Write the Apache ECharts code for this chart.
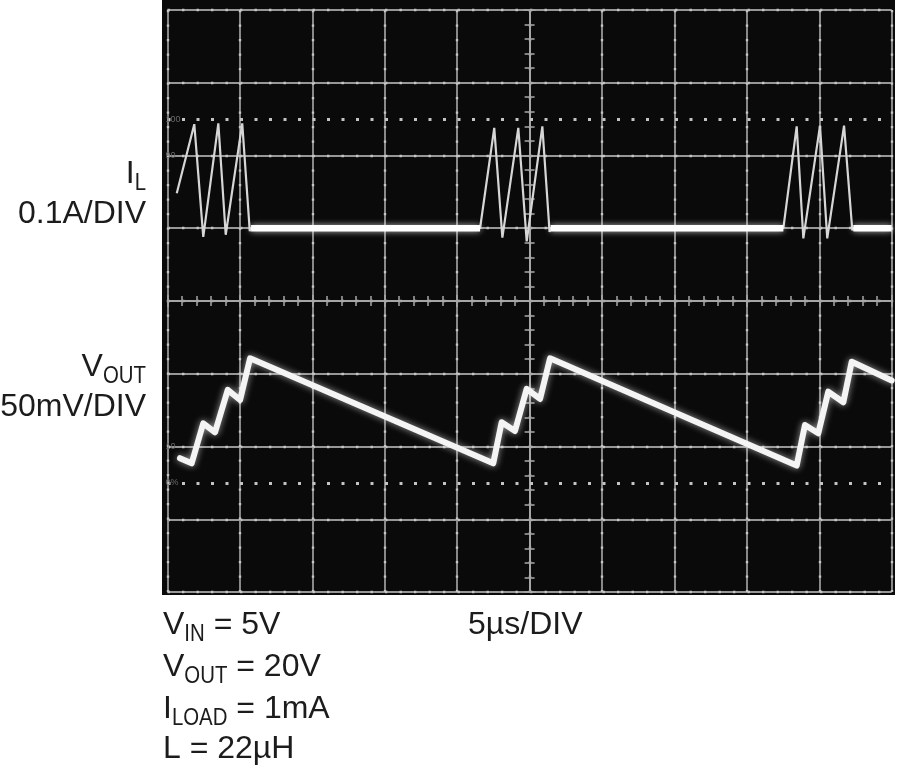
<!DOCTYPE html>
<html>
<head>
<meta charset="utf-8">
<script src="https://cdn.jsdelivr.net/npm/echarts@6/dist/echarts.min.js"></script>
<style>
html,body{margin:0;padding:0;background:#ffffff;}
#chart{width:900px;height:772px;}
</style>
</head>
<body>
<div id="chart"></div>
<script>
// ---------------- DATA ----------------
// time axis in µs (5µs/DIV, 10 divisions)
const timeMin = 0, timeMax = 50, timeStep = 5;
// screen divisions (8 vertical divisions)
const divMin = -4, divMax = 4, divStep = 1;
// IL channel: 0.1A/DIV, ground 1 div above centre
const ilMin = -0.5, ilMax = 0.3, ilStep = 0.1;
// VOUT channel: 50mV/DIV (AC ripple, mV about screen centre)
const voutMin = -200, voutMax = 200, voutStep = 50;

// inductor current trace (µs, A)
const ilTime = [0.64, 1.85, 2.47, 3.51, 4.02, 5.16, 5.68, 5.77, 21.58,
                22.56, 23.12, 24.22, 24.80, 25.88, 26.38, 26.45, 42.52,
                43.44, 43.90, 45.05, 45.55, 46.71, 47.28, 47.35, 50.00];
const ilAmps = [0.048, 0.143, -0.012, 0.144, -0.009, 0.144, -0.004, 0.000, 0.000,
                0.138, -0.013, 0.138, -0.018, 0.140, -0.005, 0.000, 0.000,
                0.140, -0.014, 0.141, -0.014, 0.141, -0.003, 0.000, 0.000];
// idle (zero current) stretches, drawn bright
const ilIdleStart = [5.77, 26.45, 47.35];
const ilIdleEnd = [21.58, 42.52, 50.00];
const ilIdleLevel = 0;

// output voltage ripple (µs, mV)
const voutTime = [0.86, 1.67, 2.47, 3.28, 4.16, 5.01, 5.70, 22.49,
                  23.07, 23.99, 24.80, 25.72, 26.41, 43.44,
                  44.01, 44.93, 45.62, 46.66, 47.24, 50.00];
const voutMilliVolts = [-108.0, -111.5, -84.0, -90.2, -61.1, -68.0, -39.4, -111.5,
                        -83.3, -89.3, -60.4, -67.3, -39.4, -113.1,
                        -85.2, -90.9, -62.3, -69.6, -41.7, -54.6];

// graticule dotted reference lines (in divisions) and scope % marks
const dottedLevels = [2.5, -2.5];
const percentMarks = ['100', '90', '10', '0%'];
const percentLevels = [2.5, 2.0, -2.0, -2.5];

// ---------------- LAYOUT ----------------
const FONT = '"Liberation Sans", Arial, Helvetica, sans-serif';
const MAIN = 32, SUB = 24, SUBDY = 7, SUBSX = 0.85, MIDK = 0.347;
const TEXT = '#1c1c1c';
const GRID = {left: 167.5, top: 9.9, width: 724.2, height: 582.2};

const mctx = document.createElement('canvas').getContext('2d');
function measure(t, s) { mctx.font = s + 'px ' + FONT; return mctx.measureText(t).width; }
function label(parts, x, baseline, align) {
  const sizes = parts.map(p => p[1] ? SUB : MAIN);
  const scales = parts.map(p => p[1] ? SUBSX : 1);
  const widths = parts.map((p, i) => measure(p[0], sizes[i]) * scales[i]);
  const total = widths.reduce((a, b) => a + b, 0);
  let cx = align === 'right' ? x - total : x;
  return parts.map((p, i) => {
    const el = {
      type: 'text', x: cx, y: baseline + (p[1] ? SUBDY : 0) - MIDK * sizes[i], z: 20,
      scaleX: scales[i],
      style: {text: p[0], fontSize: sizes[i], fontFamily: FONT, fill: TEXT, align: 'left', verticalAlign: 'middle'}
    };
    cx += widths[i];
    return el;
  });
}

const ilData = ilTime.map((t, i) => [t, ilAmps[i]]);
const ilIdleData = [];
ilIdleStart.forEach((s, i) => {
  ilIdleData.push([s, ilIdleLevel], [ilIdleEnd[i], ilIdleLevel], null);
});
const voutData = voutTime.map((t, i) => [t, voutMilliVolts[i]]);

const gridLine = {color: '#979797', width: 1.8};
const dotLine = {color: '#c6c6c6', width: 2.4, type: [2.4, 12.1]};
const tickStyle = {color: '#a8a8a8', width: 1.5};

const chart = echarts.init(document.getElementById('chart'), null, {renderer: 'canvas'});

const graphics = [
  {type: 'rect', z: -10, shape: {x: 162, y: 0, width: 733, height: 595}, style: {fill: '#0a0a0a'}}
].concat(
  label([['I', false], ['L', true]], 146, 185, 'right'),
  label([['0.1A/DIV', false]], 146, 225, 'right'),
  label([['V', false], ['OUT', true]], 146, 378, 'right'),
  label([['50mV/DIV', false]], 146, 418, 'right'),
  label([['V', false], ['IN', true], [' = 5V', false]], 163, 636, 'left'),
  label([['V', false], ['OUT', true], [' = 20V', false]], 163, 678, 'left'),
  label([['I', false], ['LOAD', true], [' = 1mA', false]], 163, 720, 'left'),
  label([['L = 22µH', false]], 163, 760, 'left'),
  label([['5µs/DIV', false]], 468, 636, 'left')
);

const option = {
  animation: false,
  backgroundColor: '#ffffff',
  grid: Object.assign({show: false}, GRID),
  xAxis: [
    {
      type: 'value', min: timeMin, max: timeMax, interval: timeStep, position: 'bottom',
      axisLine: {show: true, onZero: true, onZeroAxisIndex: 0, lineStyle: tickStyle},
      axisTick: {show: true, inside: false, length: 6, lineStyle: tickStyle},
      minorTick: {show: true, splitNumber: 5, length: 5, lineStyle: tickStyle},
      axisLabel: {show: false},
      splitLine: {show: true, lineStyle: gridLine}
    },
    {
      type: 'value', min: -(timeMax - timeMin) / 2, max: (timeMax - timeMin) / 2, interval: timeStep, position: 'top',
      axisLine: {show: true, onZero: true, onZeroAxisIndex: 0, lineStyle: tickStyle},
      axisTick: {show: true, inside: false, length: 6, lineStyle: tickStyle},
      minorTick: {show: true, splitNumber: 5, length: 5, lineStyle: tickStyle},
      axisLabel: {show: false},
      splitLine: {show: true, lineStyle: dotLine}
    }
  ],
  yAxis: [
    {
      type: 'value', min: divMin, max: divMax, interval: divStep, position: 'left',
      axisLine: {show: true, onZero: true, onZeroAxisIndex: 1, lineStyle: tickStyle},
      axisTick: {show: true, inside: false, length: 6, lineStyle: tickStyle},
      minorTick: {show: true, splitNumber: 5, length: 5, lineStyle: tickStyle},
      axisLabel: {show: false},
      splitLine: {show: true, lineStyle: gridLine}
    },
    {
      type: 'value', min: ilMin, max: ilMax, interval: ilStep, position: 'right',
      axisLine: {show: true, onZero: true, onZeroAxisIndex: 1, lineStyle: tickStyle},
      axisTick: {show: true, inside: false, length: 6, lineStyle: tickStyle},
      minorTick: {show: true, splitNumber: 5, length: 5, lineStyle: tickStyle},
      axisLabel: {show: false},
      splitLine: {show: true, lineStyle: dotLine}
    },
    {
      type: 'value', min: voutMin, max: voutMax, interval: voutStep, show: false
    }
  ],
  series: [
    {
      name: 'graticule', type: 'line', xAxisIndex: 0, yAxisIndex: 0, data: [],
      silent: true,
      markLine: {
        silent: true, symbol: 'none', label: {show: false},
        lineStyle: {color: '#c4c4c4', width: 3, type: [3, 11.5]},
        data: dottedLevels.map(v => ({yAxis: v}))
      }
    },
    {
      name: 'IL', type: 'line', xAxisIndex: 0, yAxisIndex: 1, data: ilData,
      showSymbol: false, symbol: 'none', z: 5,
      lineStyle: {color: '#d6d6d6', width: 2.2}
    },
    {
      name: 'IL idle', type: 'line', xAxisIndex: 0, yAxisIndex: 1, data: ilIdleData,
      showSymbol: false, symbol: 'none', connectNulls: false, z: 6,
      lineStyle: {color: '#ffffff', width: 6.5, shadowBlur: 6, shadowColor: 'rgba(255,255,255,0.7)'}
    },
    {
      name: 'VOUT', type: 'line', xAxisIndex: 0, yAxisIndex: 2, data: voutData,
      showSymbol: false, symbol: 'none', z: 6,
      lineStyle: {color: '#f4f4f4', width: 6, join: 'round', cap: 'round', shadowBlur: 7, shadowColor: 'rgba(255,255,255,0.6)'}
    }
  ],
  graphic: graphics
};
chart.setOption(option);

// scope percentage marks placed via the division axis
const pctGraphics = percentMarks.map((m, i) => ({
  type: 'text', z: 15,
  x: GRID.left - 2,
  y: chart.convertToPixel({yAxisIndex: 0}, percentLevels[i]),
  style: {text: m, fontSize: 9, fontFamily: FONT, fill: '#6a6a6a', align: 'left', verticalAlign: 'middle'}
}));
chart.setOption({graphic: graphics.concat(pctGraphics)});
</script>
</body>
</html>
